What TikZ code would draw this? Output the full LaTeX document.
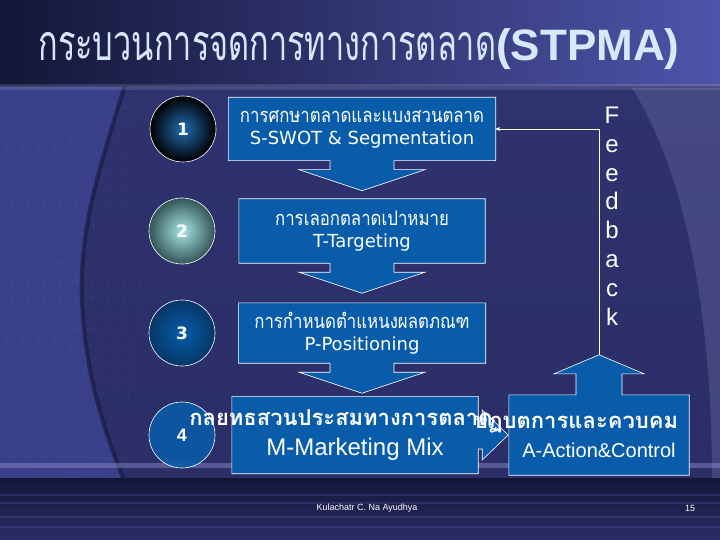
\documentclass[tikz,border=0pt]{standalone}
\usepackage{fontspec}
\setmainfont{Liberation Sans}
\newfontfamily\verdana{DejaVu Sans}
\newfontfamily\thaifont[Script=Thai,FakeStretch=0.84]{Loma}
\newfontfamily\thaibold[Script=Thai]{Loma}
\newfontfamily\thaititle[Script=Thai,FakeStretch=0.65]{Loma}
\usetikzlibrary{arrows,positioning,calc}
\pgfdeclarelayer{back}
\pgfsetlayers{back,main}

\definecolor{boxblue}{RGB}{8,92,170}
\definecolor{navy}{RGB}{42,45,102}
\definecolor{navydark}{RGB}{20,22,55}
\definecolor{navylight}{RGB}{78,84,170}
\definecolor{panelblue}{RGB}{58,63,138}
\definecolor{titlecol}{RGB}{215,232,250}

\tikzset{callout/.style={fill=boxblue,draw=white,line width=0.6pt}}

% box with an arrow pointing down
\newcommand{\downcallout}[1]{%
  \begin{pgfonlayer}{back}
  \path[callout] (#1.north west) -- (#1.north east) -- (#1.south east)
    -- ($(#1.south)+(32,0)$) -- ++(0,9) -- ++(31,0) -- ($(#1.south)+(0,30)$)
    -- ++(-63,-21) -- ++(31,0) -- ++(0,-9) -- (#1.south west) -- cycle;
  \end{pgfonlayer}}

\begin{document}
\begin{tikzpicture}[x=1pt,y=-1pt,node distance=102pt,>=stealth']

  \tikzstyle{step box}=[text=white,inner sep=0pt,align=center,font=\fontsize{18}{22}\selectfont]
  \tikzstyle{num}=[circle,draw=white,line width=0.6pt,minimum size=66pt,inner sep=0pt,
                   text=white,font=\verdana\bfseries\fontsize{17}{17}\selectfont]

  \useasboundingbox (0,0) rectangle (720,540);

  %background
  \begin{pgfonlayer}{back}
    \shade[top color=navy!85!navylight,bottom color=navy] (0,0) rectangle (720,540);
    \begin{scope}
      \clip (0,88) rectangle (720,478);
      \fill[panelblue] (0,0) -- (148,0) .. controls (120,120) and (78,200) .. (82,300)
        .. controls (86,400) and (120,470) .. (148,540) -- (0,540) -- cycle;
      \foreach \i in {0,16,...,140}
        \draw[white,opacity=0.05] (\i,88) .. controls (\i+20,250) .. (\i-10,478);
      \foreach \j in {100,116,...,470}
        \draw[white,opacity=0.05] (0,\j) -- (130,\j+8);
      \fill[navylight!60!gray,opacity=0.45] (632,88) .. controls (690,180) and (712,330)
        .. (712,478) -- (720,478) -- (720,88) -- cycle;
    \end{scope}
    \draw[navydark,line width=4pt,opacity=0.6] (148,0) .. controls (120,120) and (78,200) .. (82,300)
      .. controls (86,400) and (120,470) .. (148,540);
    \shade[left color=navydark,right color=navylight] (0,0) rectangle (720,86);
    \fill[white,opacity=0.12] (0,84) rectangle (720,90);
    \fill[navylight!70!white,opacity=0.5] (0,463) rectangle (720,468);
    \shade[top color=navydark,bottom color=navy] (0,478) rectangle (720,540);
    \foreach \y in {494,502,516,526}
      \fill[navylight,opacity=0.3] (0,\y) rectangle (720,\y+2);
  \end{pgfonlayer}

  %title
  \node[text=titlecol] (title) at (359,49)
    {{\thaititle\fontsize{50}{50}\selectfont กระบวนการจดการทางการตลาด}{\bfseries\fontsize{44}{44}\selectfont(STPMA)}};

  %steps
  \node[step box,minimum width=267pt,minimum height=63pt] (s) at (362,129)
    {{\thaifont\fontsize{20}{22}\selectfont การศกษาตลาดและแบงสวนตลาด}\\{\verdana S-SWOT \& Segmentation}};
  \node[step box,minimum width=246pt,minimum height=64pt] (t) [below of=s]
    {{\thaifont\fontsize{20}{22}\selectfont การเลอกตลาดเปาหมาย}\\{\verdana T-Targeting}};
  \node[step box,minimum width=247pt,minimum height=60pt] (p) [below of=t]
    {{\thaifont\fontsize{20}{22}\selectfont การกำหนดตำแหนงผลตภณฑ}\\{\verdana P-Positioning}};
  \node[step box,minimum width=246pt,minimum height=77pt,font=\fontsize{24}{30}\selectfont] (m) [below of=p,xshift=-7pt]
    {\makebox[0pt]{\thaibold\bfseries\fontsize{22}{30}\selectfont กลยทธสวนประสมทางการตลาด\hspace{28pt}}\\M-Marketing Mix};
  \node[step box,minimum width=180pt,minimum height=80pt,font=\fontsize{20}{29}\selectfont] (a) [right of=m,node distance=244pt]
    {\makebox[0pt]{\thaibold\bfseries\fontsize{22}{29}\selectfont ปฏบตการและควบคม\hspace{46pt}}\\A-Action\&Control};

  %numbers
  \node[num,inner color=boxblue!90!white,outer color=black] (n1) [left of=s,node distance=179pt] {1};
  \node[num,inner color=white!70!cyan!80!gray,outer color=black!55!teal!60!gray] (n2) [left of=t,node distance=180pt] {2};
  \node[num,inner color=boxblue,outer color=boxblue!60!black] (n3) [left of=p,node distance=180pt] {3};

  %arrow boxes
  \downcallout{s}
  \downcallout{t}
  \downcallout{p}
  \begin{pgfonlayer}{back}
    \path[callout] (m.north west) -- (m.north east) -- ($(m.east)+(0,-14)$) -- ++(4,0) -- ++(0,-11)
      -- ($(m.east)+(30,0)$) -- ++(-26,25) -- ++(0,-11) -- ++(-4,0) -- (m.south east) -- (m.south west) -- cycle;
    \path[callout] (a.south west) -- (a.south east) -- (a.north east) -- ($(a.north)+(23,0)$) -- ++(0,-21)
      -- ++(22,0) -- ($(a.north)+(0,-40)$) coordinate (fb) -- ++(-45,19) -- ++(22,0) -- ++(0,21) -- (a.north west) -- cycle;
    % circle 4 stays under the heading of the mix box
    \node[num,fill=boxblue,fill opacity=0.85,text opacity=1,font=\bfseries\fontsize{18}{18}\selectfont] (n4) [left of=m,node distance=173pt] {4};
  \end{pgfonlayer}

  %feedback
  \draw[white,line width=0.6pt,->] (fb) |- (s.east);
  \node[text=white,align=center,font=\fontsize{24}{28.8}\selectfont] (fbk) at (612,216) {F\\e\\e\\d\\b\\a\\c\\k};

  %footer
  \node[text=white,font=\fontsize{9}{9}\selectfont] (author) at (367,508) {Kulachatr C. Na Ayudhya};
  \node[text=white,font=\fontsize{9}{9}\selectfont] (page) at (690,508) {15};

\end{tikzpicture}
\end{document}
